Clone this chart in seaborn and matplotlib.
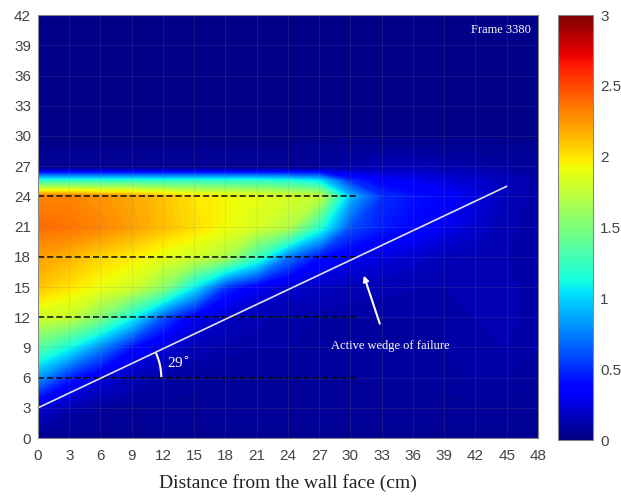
import numpy as np
import seaborn as sns
import matplotlib
matplotlib.use('Agg')
import matplotlib.pyplot as plt
from matplotlib.patches import Arc
from matplotlib.colors import Normalize
from matplotlib.cm import ScalarMappable

x_nodes = [0, 3, 6, 9, 12, 15, 18, 21, 24, 27, 30, 33, 36, 39, 42, 45, 48]
y_nodes = [0, 3, 6, 9, 12, 15, 18, 21, 24, 25.5, 26.7, 30, 33, 36, 39, 42]

# one list per row of y_nodes
row_y0 = [0.05] * 17
row_y3 = [0.2, 0.12, 0.08, 0.07, 0.07, 0.07, 0.07, 0.07, 0.07, 0.07, 0.07, 0.07, 0.07, 0.07, 0.07, 0.07, 0.06]
row_y6 = [0.8, 0.45, 0.25, 0.15, 0.1, 0.09, 0.08, 0.08, 0.08, 0.08, 0.08, 0.08, 0.08, 0.09, 0.1, 0.1, 0.08]
row_y9 = [1.35, 1.1, 0.75, 0.4, 0.22, 0.14, 0.11, 0.1, 0.1, 0.1, 0.1, 0.1, 0.1, 0.1, 0.12, 0.12, 0.1]
row_y12 = [1.8, 1.75, 1.5, 1.1, 0.6, 0.3, 0.18, 0.13, 0.11, 0.1, 0.1, 0.1, 0.1, 0.1, 0.12, 0.13, 0.1]
row_y15 = [2.1, 2.0, 1.9, 1.8, 1.55, 1.05, 0.5, 0.3, 0.2, 0.17, 0.14, 0.13, 0.12, 0.12, 0.13, 0.13, 0.1]
row_y18 = [2.22, 2.15, 2.05, 1.97, 1.87, 1.8, 1.65, 1.25, 0.7, 0.4, 0.3, 0.25, 0.2, 0.15, 0.13, 0.12, 0.1]
row_y21 = [2.38, 2.36, 2.3, 2.22, 2.12, 2.02, 1.92, 1.82, 1.7, 1.2, 0.6, 0.45, 0.38, 0.3, 0.2, 0.13, 0.1]
row_y24 = [2.3, 2.3, 2.25, 2.2, 2.1, 2.0, 1.93, 1.88, 1.82, 1.75, 0.9, 0.5, 0.42, 0.35, 0.25, 0.15, 0.1]
row_y25 = [1.2, 1.2, 1.2, 1.2, 1.2, 1.2, 1.2, 1.2, 1.15, 1.05, 0.5, 0.35, 0.3, 0.25, 0.2, 0.15, 0.1]
row_y27 = [0.06, 0.06, 0.06, 0.06, 0.06, 0.06, 0.06, 0.06, 0.06, 0.08, 0.12, 0.15, 0.15, 0.13, 0.12, 0.1, 0.08]
row_top = [0.03] * 17

rows = [row_y0, row_y3, row_y6, row_y9, row_y12, row_y15, row_y18, row_y21,
        row_y24, row_y25, row_y27, row_top, row_top, row_top, row_top, row_top]

dash_levels = [6, 12, 18, 24]
dash_end = 30.5
wedge_x = [0, 45]
wedge_y = [3, 25]

sns.set_theme(style='white')
plt.rcParams['font.family'] = ['Liberation Sans', 'DejaVu Sans']
serif = ['Liberation Serif', 'DejaVu Serif']

fig = plt.figure(figsize=(6.21, 5.01), dpi=100)
ax = fig.add_axes([0.0612, 0.1257, 0.805, 0.844])
cax = fig.add_axes([0.8986, 0.1217, 0.0564, 0.848])

norm = Normalize(0, 3)
# fine filled contours so the colour follows the value between the nodes
cs = ax.contourf(x_nodes, y_nodes, np.array(rows), levels=np.linspace(0, 3, 151),
                 cmap='jet', norm=norm, extend='both')
cs.set_edgecolor('face')

for lvl in dash_levels:
  ax.plot([0, dash_end], [lvl, lvl], color='black', ls=(0, (4, 2)), lw=1.1)

ax.plot(wedge_x, wedge_y, color='#e2e2ec', lw=1.2)

# angle arc where the failure line crosses y = 6
slope = (wedge_y[1] - wedge_y[0]) / (wedge_x[1] - wedge_x[0])
cx = (6 - wedge_y[0]) / slope
ang = np.degrees(np.arctan(slope * 10.07 / 10.42))
ax.add_patch(Arc((cx, 6), 2 * 5.7, 2 * 5.7 * 10.42 / 10.07, theta1=0, theta2=ang,
                 color='white', lw=1.5))
ax.text(12.4, 7.4, '29$^{\\circ}$', color='white', fontsize=11, family=serif, va='center')

ax.annotate('', xy=(31.2, 16.4), xytext=(32.9, 11.1),
            arrowprops=dict(arrowstyle='-|>', color='white', lw=1.5, mutation_scale=8))
ax.text(33.8, 9.1, 'Active wedge of failure', color='white', fontsize=9,
        family=serif, ha='center', va='center')
ax.text(47.3, 40.5, 'Frame 3380', color='white', fontsize=9, family=serif,
        ha='right', va='center')

ax.set_xlim(0, 48)
ax.set_ylim(0, 42)
ax.set_xticks(np.arange(0, 49, 3))
ax.set_yticks(np.arange(0, 43, 3))
ax.tick_params(labelsize=11, colors='#444444', direction='in', length=3, width=0.6)
ax.tick_params(axis='x', pad=8)
ax.tick_params(axis='y', pad=5)
ax.grid(True, color='#888888', alpha=0.2, lw=0.6)
ax.set_axisbelow(False)
ax.set_xlabel('Distance from the wall face (cm)', fontsize=14, family=serif, color='#222222', labelpad=8)
for s in ax.spines.values():
  s.set_color('#888888')
  s.set_linewidth(0.8)

cb = fig.colorbar(ScalarMappable(norm=norm, cmap='jet'), cax=cax, ticks=[0, 0.5, 1, 1.5, 2, 2.5, 3])
cb.ax.set_yticklabels(['0', '0.5', '1', '1.5', '2', '2.5', '3'])
cb.ax.tick_params(labelsize=11, colors='#444444', direction='in', length=3, width=0.6, pad=5)
cb.outline.set_edgecolor('#888888')
cb.outline.set_linewidth(0.8)

fig.savefig('out.png', dpi=100)
